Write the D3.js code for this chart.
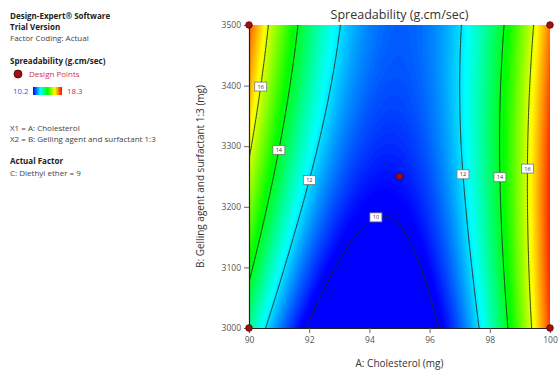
<!DOCTYPE html>
<html>
<head>
<meta charset="utf-8">
<script src="https://cdn.jsdelivr.net/npm/d3@7"></script>
<style>
    body { margin: 0; background: #fff; }
    svg { display: block; font-family: "Open Sans", "Noto Sans", sans-serif; }
</style>
</head>
<body>
<svg id="chart" width="558" height="371"></svg>
<script>
/*globals d3 */

// Factor levels of the response grid (A: Cholesterol, B: Gelling agent).
var cholesterol = [90, 91, 92, 93, 94, 95, 96, 97, 98, 99, 100];
var gelling = [3000, 3100, 3200, 3300, 3400, 3500];

// Spreadability (g.cm/sec), one list per B level.
var spread3000 = [13.10, 11.23, 9.88, 9.05, 8.73, 8.94, 9.67, 10.92, 12.69, 14.97, 17.78];
var spread3100 = [14.27, 12.30, 10.84, 9.91, 9.50, 9.61, 10.24, 11.39, 13.06, 15.25, 17.96];
var spread3200 = [15.30, 13.23, 11.68, 10.65, 10.14, 10.15, 10.68, 11.73, 13.30, 15.39, 18.00];
var spread3300 = [16.19, 14.03, 12.38, 11.25, 10.64, 10.55, 10.98, 11.94, 13.41, 15.40, 17.91];
var spread3400 = [16.95, 14.69, 12.94, 11.71, 11.01, 10.82, 11.15, 12.00, 13.38, 15.27, 17.68];
var spread3500 = [17.58, 15.22, 13.37, 12.04, 11.24, 10.95, 11.19, 11.94, 13.21, 15.01, 17.32];

var contourLevels = [10, 12, 14, 16];

// Where each contour is labelled (level, A, B).
var contourLabels = [
    [16, 90.38, 3398], [14, 90.99, 3294], [12, 91.99, 3243],
    [10, 94.23, 3183],
    [12, 97.12, 3254], [14, 98.37, 3249], [16, 99.30, 3262]
];

// Design points (A, B).
var designA = [90, 100, 90, 100, 95];
var designB = [3000, 3000, 3500, 3500, 3250];

var legendRange = [10.2, 18.3];

var rows = [spread3000, spread3100, spread3200, spread3300, spread3400, spread3500];

// Catmull-Rom along a list, quadratic ghost ends.
function cubic(p, u) {
    var n = p.length,
        i = Math.max(0, Math.min(n - 2, Math.floor(u))),
        t = u - i,
        p1 = p[i],
        p2 = p[i + 1],
        p0 = i > 0 ? p[i - 1] : 3 * p[0] - 3 * p[1] + p[2],
        p3 = i + 2 < n ? p[i + 2] : 3 * p[n - 1] - 3 * p[n - 2] + p[n - 3];
    return 0.5 * (2 * p1 + (-p0 + p2) * t + (2 * p0 - 5 * p1 + 4 * p2 - p3) * t * t +
        (-p0 + 3 * p1 - 3 * p2 + p3) * t * t * t);
}

function surface(a, b) {
    var ua = (a - cholesterol[0]) / (cholesterol[1] - cholesterol[0]),
        ub = (b - gelling[0]) / (gelling[1] - gelling[0]),
        col = rows.map(function (r) { return cubic(r, ua); });
    return cubic(col, ub);
}

var svg = d3.select("#chart");

var x = d3.scaleLinear().domain([90, 100]).range([249, 550]);
var y = d3.scaleLinear().domain([3000, 3500]).range([328, 25]);

var color = d3.scaleLinear()
    .domain(d3.range(5).map(function (i) {
        return legendRange[0] + i * (legendRange[1] - legendRange[0]) / 4;
    }))
    .range(["#0000ff", "#00ffff", "#00ff00", "#ffff00", "#ff0000"])
    .clamp(true);

// Sample the surface a bit beyond the plot so the clip hides the edges.
var nx = 220, ny = 220,
    a0 = 89.8, a1 = 100.2, b0 = 2990, b1 = 3510,
    values = new Array(nx * ny);

for (var j = 0; j < ny; j++) {
    for (var i = 0; i < nx; i++) {
        values[j * nx + i] = surface(a0 + i * (a1 - a0) / (nx - 1), b1 - j * (b1 - b0) / (ny - 1));
    }
}

var path = d3.geoPath(d3.geoTransform({
    point: function (gx, gy) {
        this.stream.point(x(a0 + (gx - 0.5) * (a1 - a0) / (nx - 1)),
            y(b1 - (gy - 0.5) * (b1 - b0) / (ny - 1)));
    }
}));

svg.append("clipPath").attr("id", "plot-clip")
    .append("rect")
    .attr("x", x(90)).attr("y", y(3500))
    .attr("width", x(100) - x(90)).attr("height", y(3000) - y(3500));

var plot = svg.append("g").attr("clip-path", "url(#plot-clip)");

var step = 0.06,
    bands = d3.range(8.5, 18.3, step);

plot.selectAll("path.band")
    .data(d3.contours().size([nx, ny]).thresholds(bands)(values))
    .enter().append("path")
    .attr("class", "band")
    .attr("d", path)
    .attr("fill", function (d) { return color(d.value + step / 2); })
    .attr("stroke", function (d) { return color(d.value + step / 2); })
    .attr("stroke-width", 0.3);

var lines = d3.contours().size([nx, ny]).thresholds(contourLevels)(values);

plot.selectAll("path.level")
    .data(lines)
    .enter().append("path")
    .attr("class", "level")
    .attr("d", path)
    .attr("fill", "none")
    .attr("stroke", "#1c2a1c")
    .attr("stroke-width", 0.9);

// Snap each label to the nearest vertex of its contour.
var labelPos = contourLabels.map(function (l) {
    var px = x(l[1]), py = y(l[2]), best = null, bd = Infinity;
    lines.filter(function (c) { return c.value === l[0]; }).forEach(function (c) {
        c.coordinates.forEach(function (poly) {
            poly.forEach(function (ring) {
                ring.forEach(function (pt) {
                    var qx = x(a0 + (pt[0] - 0.5) * (a1 - a0) / (nx - 1)),
                        qy = y(b1 - (pt[1] - 0.5) * (b1 - b0) / (ny - 1)),
                        dd = (qx - px) * (qx - px) + (qy - py) * (qy - py);
                    if (dd < bd) { bd = dd; best = [qx, qy]; }
                });
            });
        });
    });
    return {level: l[0], x: best ? best[0] : px, y: best ? best[1] : py};
});

var lab = plot.selectAll("g.clabel")
    .data(labelPos)
    .enter().append("g")
    .attr("class", "clabel")
    .attr("transform", function (d) { return "translate(" + d.x + "," + d.y + ")"; });

lab.append("rect")
    .attr("x", -6).attr("y", -4.5).attr("width", 12).attr("height", 9)
    .attr("fill", "#fff").attr("stroke", "#777").attr("stroke-width", 0.8);

lab.append("text")
    .attr("text-anchor", "middle").attr("dy", "0.35em")
    .attr("font-size", 5.5).attr("fill", "#333")
    .text(function (d) { return d.level; });

// Axes
var xAxis = svg.append("g")
    .attr("transform", "translate(0," + y(3000) + ")")
    .call(d3.axisBottom(x).tickValues(d3.range(90, 101, 2)).tickSize(5).tickPadding(4));

var yAxis = svg.append("g")
    .attr("transform", "translate(" + x(90) + ",0)")
    .call(d3.axisLeft(y).tickValues(d3.range(3000, 3501, 100)).tickFormat(d3.format("d"))
        .tickSize(5).tickPadding(3));

[xAxis, yAxis].forEach(function (g) {
    g.select(".domain").attr("stroke", "#222").attr("stroke-width", 1.2);
    g.selectAll(".tick line").attr("stroke", "#666");
    g.selectAll(".tick text").attr("fill", "#555").attr("font-size", 8.5)
        .attr("font-family", "\"Open Sans\", sans-serif");
});

// Design points
svg.selectAll("circle.design")
    .data(designA)
    .enter().append("circle")
    .attr("class", "design")
    .attr("cx", function (d) { return x(d); })
    .attr("cy", function (d, k) { return y(designB[k]); })
    .attr("r", 3.3)
    .attr("fill", "#a01010")
    .attr("stroke", "#5a0000")
    .attr("stroke-width", 0.8);

// Titles
svg.append("text")
    .attr("x", (x(90) + x(100)) / 2).attr("y", 19)
    .attr("text-anchor", "middle").attr("font-size", 12.5).attr("fill", "#333")
    .text("Spreadability (g.cm/sec)");

svg.append("text")
    .attr("x", (x(90) + x(100)) / 2).attr("y", 367)
    .attr("text-anchor", "middle").attr("font-size", 10).attr("fill", "#333")
    .text("A: Cholesterol (mg)");

svg.append("text")
    .attr("transform", "translate(204," + (y(3000) + y(3500)) / 2 + ") rotate(-90)")
    .attr("text-anchor", "middle").attr("font-size", 10).attr("fill", "#333")
    .text("B: Gelling agent and surfactant 1:3 (mg)");

// Side panel
var info = [
    {t: "Design-Expert\u00ae Software", y: 19, bold: true},
    {t: "Trial Version", y: 30, bold: true},
    {t: "Factor Coding: Actual", y: 41},
    {t: "Spreadability (g.cm/sec)", y: 64, bold: true},
    {t: "X1 = A: Cholesterol", y: 131},
    {t: "X2 = B: Gelling agent and surfactant 1:3", y: 142},
    {t: "Actual Factor", y: 164, bold: true},
    {t: "C: Diethyl ether = 9", y: 176}
];

svg.selectAll("text.info")
    .data(info)
    .enter().append("text")
    .attr("class", "info")
    .attr("x", 10).attr("y", function (d) { return d.y; })
    .attr("font-size", function (d) { return d.bold ? 8 : 8; })
    .attr("font-weight", function (d) { return d.bold ? "bold" : "normal"; })
    .attr("fill", function (d) { return d.bold ? "#222" : "#444"; })
    .text(function (d) { return d.t; });

svg.append("circle")
    .attr("cx", 18).attr("cy", 74).attr("r", 4)
    .attr("fill", "#a01010").attr("stroke", "#400").attr("stroke-width", 0.8);

svg.append("text")
    .attr("x", 29).attr("y", 77).attr("font-size", 8).attr("fill", "#d0304a")
    .text("Design Points");

var grad = svg.append("defs").append("linearGradient").attr("id", "legend-grad");
grad.selectAll("stop")
    .data(color.domain())
    .enter().append("stop")
    .attr("offset", function (d, k) { return k * 25 + "%"; })
    .attr("stop-color", function (d) { return color(d); });

svg.append("rect")
    .attr("x", 33).attr("y", 87).attr("width", 29).attr("height", 8)
    .attr("fill", "url(#legend-grad)");

svg.append("text")
    .attr("x", 13).attr("y", 94).attr("font-size", 7.8).attr("fill", "#4a4aff")
    .text(legendRange[0]);

svg.append("text")
    .attr("x", 67).attr("y", 94).attr("font-size", 7.8).attr("fill", "#e02030")
    .text(legendRange[1]);
</script>
</body>
</html>
